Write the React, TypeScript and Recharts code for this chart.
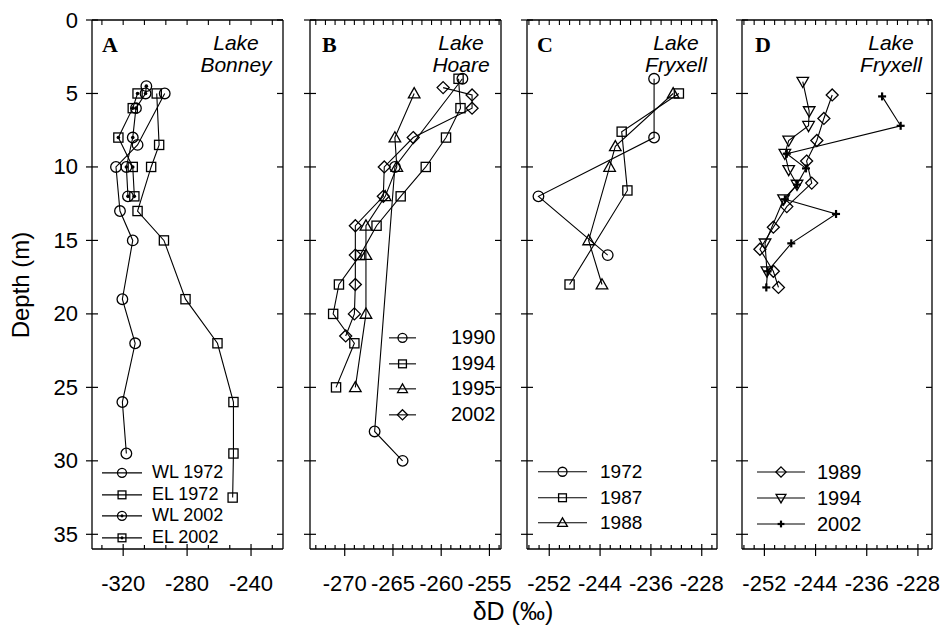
import React from "react";
import { ScatterChart, Scatter, XAxis, YAxis, Legend, ReferenceLine } from "recharts";

const FONT = "Arial, 'Liberation Sans', Helvetica, sans-serif";
const SERIF = "'Times New Roman', 'Liberation Serif', serif";

const PLOT_H = 529;

// shared depth axis (m)
const depthDomain: [number, number] = [0, 36];
const depthTicks = [0, 5, 10, 15, 20, 25, 30, 35];

// A - Lake Bonney
const bonneyWL1972Depth = [5, 8.5, 10, 13, 15, 19, 22, 26, 29.5];
const bonneyWL1972dD = [-294, -311, -324.5, -322, -314, -320.5, -312.5, -320.5, -318];
const bonneyEL1972Depth = [5, 8.5, 10, 13, 15, 19, 22, 26, 29.5, 32.5];
const bonneyEL1972dD = [-299, -297.5, -302.5, -311, -294.5, -281, -261, -251, -251, -251.5];
const bonneyWL2002Depth = [4.5, 5, 6, 8, 10, 12];
const bonneyWL2002dD = [-305.5, -306, -312, -314, -318, -317];
const bonneyEL2002Depth = [5, 6, 8, 10, 12];
const bonneyEL2002dD = [-311, -314, -323, -314, -313];
const bonneyTicks = [-333.3, -320, -306.7, -293.3, -280, -266.7, -253.3, -240, -226.7];
const bonneyLabels = [-320, -280, -240];

// B - Lake Hoare
const hoare1990Depth = [4, 10, 28, 30];
const hoare1990dD = [-257.8, -264.8, -266.9, -264];
const hoare1994Depth = [4, 6, 8, 10, 12, 14, 16, 18, 20, 22, 25];
const hoare1994dD = [-258.2, -258, -259.5, -261.6, -264.2, -266.7, -268.4, -270.6, -271.2, -269, -270.9];
const hoare1995Depth = [5, 8, 10, 12, 14, 16, 20, 25];
const hoare1995dD = [-262.8, -264.8, -264.6, -265.8, -267.8, -267.8, -267.8, -268.9];
const hoare2002Depth = [4.6, 5.1, 6, 8, 10, 12, 14, 16, 18, 20, 21.5];
const hoare2002dD = [-259.8, -256.8, -256.8, -262.9, -265.9, -266, -268.9, -268.9, -268.9, -269, -269.9];
const hoareTicks = [-273, -272, -271, -270, -269, -268, -267, -266, -265, -264, -263, -262, -261, -260, -259, -258, -257, -256, -255, -254];
const hoareLabels = [-270, -265, -260, -255];

// C - Lake Fryxell (1972-1988)
const fryxC1972Depth = [4, 8, 12, 16];
const fryxC1972dD = [-235.5, -235.5, -253.7, -242.8];
const fryxC1987Depth = [5, 7.6, 11.6, 18];
const fryxC1987dD = [-231.6, -240.6, -239.7, -248.8];
const fryxC1988Depth = [5, 8.6, 10, 15, 18];
const fryxC1988dD = [-232.5, -241.6, -242.5, -245.8, -243.7];

// D - Lake Fryxell (1989-2002)
const fryxD1989Depth = [5.1, 6.7, 8.2, 9.6, 11.1, 12.7, 14.1, 15.6, 17.1, 18.2];
const fryxD1989dD = [-241.4, -242.7, -243.8, -245.4, -244.6, -248.5, -250.6, -252.7, -250.6, -249.8];
const fryxD1994Depth = [4.2, 6.2, 7.2, 8.2, 9.1, 10.2, 11.2, 12.2, 15.2, 17.1];
const fryxD1994dD = [-246, -245, -245.1, -248.2, -248.8, -248.2, -246.9, -249, -251.9, -251.6];
const fryxD2002Depth = [5.2, 7.2, 9.1, 10.1, 11.2, 12.2, 13.2, 15.2, 17.1, 18.2];
const fryxD2002dD = [-233.6, -230.7, -248.5, -245.5, -246.9, -248.8, -240.8, -247.8, -251.5, -251.7];

const fryxTicks = [-255.2, -253.6, -252, -250.4, -248.8, -247.2, -245.6, -244, -242.4, -240.8, -239.2, -237.6, -236, -234.4, -232.8, -231.2, -229.6, -228, -226.4];
const fryxLabels = [-252, -244, -236, -228];

type MarkerKind = "circle" | "square" | "triangle" | "triangleDown" | "diamond" | "circleDot" | "squareDot" | "plus";

const Marker = ({ kind, cx, cy, k = 1 }: { kind: MarkerKind; cx: number; cy: number; k?: number }) => {
  const s = { fill: "none", stroke: "#000", strokeWidth: 1.3 };
  const r = 5.3 * k;
  const h = 4.6 * k;
  switch (kind) {
    case "circle":
      return <circle cx={cx} cy={cy} r={r} {...s} />;
    case "circleDot":
      return (
        <g>
          <circle cx={cx} cy={cy} r={r} {...s} />
          <circle cx={cx} cy={cy} r={1.8 * k} fill="#000" />
        </g>
      );
    case "square":
      return <rect x={cx - h} y={cy - h} width={2 * h} height={2 * h} {...s} />;
    case "squareDot":
      return (
        <g>
          <rect x={cx - h} y={cy - h} width={2 * h} height={2 * h} {...s} />
          <circle cx={cx} cy={cy} r={1.8 * k} fill="#000" />
        </g>
      );
    case "triangle": {
      const a = 5.8 * k;
      return <polygon points={`${cx},${cy - a} ${cx + a},${cy + a * 0.75} ${cx - a},${cy + a * 0.75}`} {...s} />;
    }
    case "triangleDown": {
      const a = 5.8 * k;
      return <polygon points={`${cx},${cy + a} ${cx + a},${cy - a * 0.75} ${cx - a},${cy - a * 0.75}`} {...s} />;
    }
    case "diamond": {
      const d = 6 * k;
      return <polygon points={`${cx},${cy - d} ${cx + d},${cy} ${cx},${cy + d} ${cx - d},${cy}`} {...s} />;
    }
    case "plus": {
      const p = 4 * k;
      return (
        <g stroke="#000" strokeWidth={2.2}>
          <line x1={cx - p} x2={cx + p} y1={cy} y2={cy} />
          <line x1={cx} x2={cx} y1={cy - p} y2={cy + p} />
        </g>
      );
    }
  }
  return null;
};

const toPts = (dD: number[], depth: number[]) => dD.map((x, i) => ({ x, y: depth[i] }));

type Series = { name: string; dD: number[]; depth: number[]; marker: MarkerKind };

const seriesA: Series[] = [
  { name: "WL 1972", dD: bonneyWL1972dD, depth: bonneyWL1972Depth, marker: "circle" },
  { name: "EL 1972", dD: bonneyEL1972dD, depth: bonneyEL1972Depth, marker: "square" },
  { name: "WL 2002", dD: bonneyWL2002dD, depth: bonneyWL2002Depth, marker: "circleDot" },
  { name: "EL 2002", dD: bonneyEL2002dD, depth: bonneyEL2002Depth, marker: "squareDot" },
];
const seriesB: Series[] = [
  { name: "1990", dD: hoare1990dD, depth: hoare1990Depth, marker: "circle" },
  { name: "1994", dD: hoare1994dD, depth: hoare1994Depth, marker: "square" },
  { name: "1995", dD: hoare1995dD, depth: hoare1995Depth, marker: "triangle" },
  { name: "2002", dD: hoare2002dD, depth: hoare2002Depth, marker: "diamond" },
];
const seriesC: Series[] = [
  { name: "1972", dD: fryxC1972dD, depth: fryxC1972Depth, marker: "circle" },
  { name: "1987", dD: fryxC1987dD, depth: fryxC1987Depth, marker: "square" },
  { name: "1988", dD: fryxC1988dD, depth: fryxC1988Depth, marker: "triangle" },
];
const seriesD: Series[] = [
  { name: "1989", dD: fryxD1989dD, depth: fryxD1989Depth, marker: "diamond" },
  { name: "1994", dD: fryxD1994dD, depth: fryxD1994Depth, marker: "triangleDown" },
  { name: "2002", dD: fryxD2002dD, depth: fryxD2002Depth, marker: "plus" },
];

const isMajor = (labels: number[], v: number) => labels.some((m) => Math.abs(m - v) < 1e-6);

// labels only, tick marks are drawn as reference segments
const bottomLabel = (labels: number[]) => (props: any) => {
  const { x, y, payload } = props;
  if (!isMajor(labels, payload.value)) return <g />;
  return (
    <text x={x} y={y + 42} textAnchor="middle" fontSize={22} fontFamily={FONT} fill="#000">
      {payload.value}
    </text>
  );
};

const leftLabel = (show: boolean) => (props: any) => {
  const { x, y, payload } = props;
  if (!show) return <g />;
  return (
    <text x={x - 14} y={y} textAnchor="end" dominantBaseline="central" fontSize={22} fontFamily={FONT} fill="#000">
      {payload.value}
    </text>
  );
};

type LegendCfg = { left: number; top: number; rowH: number; lineW: number; gap: number; fontSize: number };

const LegendBox = ({ items, cfg }: { items: Series[]; cfg: LegendCfg }) => (
  <div style={{ fontFamily: FONT, fontSize: cfg.fontSize, color: "#000" }}>
    {items.map((it) => (
      <div key={it.name} style={{ display: "flex", alignItems: "center", height: cfg.rowH }}>
        <svg width={cfg.lineW} height={cfg.rowH} style={{ display: "block" }}>
          <line x1={0} x2={cfg.lineW} y1={cfg.rowH / 2} y2={cfg.rowH / 2} stroke="#000" strokeWidth={1.1} />
          <Marker kind={it.marker} cx={cfg.lineW / 2} cy={cfg.rowH / 2} k={0.85} />
        </svg>
        <span style={{ marginLeft: cfg.gap, lineHeight: `${cfg.rowH}px`, whiteSpace: "nowrap" }}>{it.name}</span>
      </div>
    ))}
  </div>
);

type PanelProps = {
  left: number;
  width: number;
  margin: { top: number; right: number; bottom: number; left: number };
  yWidth: number;
  showDepthLabels: boolean;
  domain: [number, number];
  ticks: number[];
  labels: number[];
  series: Series[];
  legend: LegendCfg;
};

const Panel = ({ left, width, margin, yWidth, showDepthLabels, domain, ticks, labels, series, legend }: PanelProps) => {
  const plotW = width - margin.left - margin.right - yWidth - 1;
  const ux = (domain[1] - domain[0]) / plotW; // data units per pixel, x
  const uy = (depthDomain[1] - depthDomain[0]) / PLOT_H; // data units per pixel, depth
  const seg = { xAxisId: "b", yAxisId: "l", stroke: "#000", strokeWidth: 1.2, ifOverflow: "visible" as const };
  return (
    <div style={{ position: "absolute", left, top: 0 }}>
      <ScatterChart width={width} height={629} margin={margin}>
        <XAxis
          xAxisId="b"
          type="number"
          dataKey="x"
          domain={domain}
          ticks={ticks}
          interval={0}
          allowDataOverflow
          height={40}
          tickLine={false}
          tickSize={0}
          tickMargin={0}
          axisLine={{ stroke: "#000", strokeWidth: 1.3 }}
          tick={bottomLabel(labels)}
        />
        <XAxis
          xAxisId="t"
          orientation="top"
          type="number"
          domain={domain}
          allowDataOverflow
          height={1}
          tick={false}
          tickLine={false}
          axisLine={{ stroke: "#000", strokeWidth: 1.3 }}
        />
        <YAxis
          yAxisId="l"
          type="number"
          dataKey="y"
          domain={depthDomain}
          ticks={depthTicks}
          interval={0}
          reversed
          allowDataOverflow
          width={yWidth}
          tickLine={false}
          tickSize={0}
          tickMargin={0}
          axisLine={{ stroke: "#000", strokeWidth: 1.3 }}
          tick={leftLabel(showDepthLabels)}
        />
        <YAxis
          yAxisId="r"
          orientation="right"
          type="number"
          domain={depthDomain}
          reversed
          allowDataOverflow
          width={1}
          tick={false}
          tickLine={false}
          axisLine={{ stroke: "#000", strokeWidth: 1.3 }}
        />
        {ticks.map((t) => (
          <ReferenceLine
            key={`bt${t}`}
            {...seg}
            segment={[
              { x: t, y: depthDomain[1] - (isMajor(labels, t) ? 5 : 4) * uy },
              { x: t, y: depthDomain[1] + (isMajor(labels, t) ? 7 : 0) * uy },
            ]}
          />
        ))}
        {ticks.map((t) => (
          <ReferenceLine
            key={`tt${t}`}
            {...seg}
            strokeWidth={1.1}
            segment={[
              { x: t, y: depthDomain[0] },
              { x: t, y: depthDomain[0] + 5 * uy },
            ]}
          />
        ))}
        {depthTicks.map((d) => (
          <ReferenceLine
            key={`lt${d}`}
            {...seg}
            segment={[
              { x: domain[0] - 6 * ux, y: d },
              { x: domain[0] + 6 * ux, y: d },
            ]}
          />
        ))}
        {depthTicks.map((d) => (
          <ReferenceLine
            key={`rt${d}`}
            {...seg}
            segment={[
              { x: domain[1] - 6 * ux, y: d },
              { x: domain[1], y: d },
            ]}
          />
        ))}
        {series.map((s) => (
          <Scatter
            key={s.name}
            name={s.name}
            xAxisId="b"
            yAxisId="l"
            data={toPts(s.dD, s.depth)}
            line={{ stroke: "#000", strokeWidth: 1.1 }}
            lineType="joint"
            shape={(p: any) => <Marker kind={s.marker} cx={p.cx} cy={p.cy} />}
            isAnimationActive={false}
          />
        ))}
        <Legend
          layout="vertical"
          align="center"
          verticalAlign="middle"
          wrapperStyle={{ left: legend.left - left, top: legend.top, width: "auto" }}
          content={() => <LegendBox items={series} cfg={legend} />}
        />
      </ScatterChart>
    </div>
  );
};

const lakeNames = [
  { letter: "A", lx: 102, cx: 236, l1: "Lake", l2: "Bonney" },
  { letter: "B", lx: 322, cx: 461, l1: "Lake", l2: "Hoare" },
  { letter: "C", lx: 537, cx: 676, l1: "Lake", l2: "Fryxell" },
  { letter: "D", lx: 755, cx: 891, l1: "Lake", l2: "Fryxell" },
];

export default function App() {
  return (
    <div style={{ position: "absolute", left: 0, top: 0, width: 943, height: 629, background: "#fff", overflow: "hidden" }}>
      <Panel
        left={0}
        width={300}
        margin={{ top: 19, right: 16, bottom: 40, left: 32 }}
        yWidth={60}
        showDepthLabels
        domain={[-339.5, -220]}
        ticks={bonneyTicks}
        labels={bonneyLabels}
        series={seriesA}
        legend={{ left: 102, top: 462, rowH: 21.7, lineW: 40, gap: 10, fontSize: 18 }}
      />
      <Panel
        left={300}
        width={215}
        margin={{ top: 19, right: 13, bottom: 40, left: 9 }}
        yWidth={1}
        showDepthLabels={false}
        domain={[-273.6, -253.8]}
        ticks={hoareTicks}
        labels={hoareLabels}
        series={seriesB}
        legend={{ left: 389, top: 325, rowH: 25.7, lineW: 27, gap: 35, fontSize: 20 }}
      />
      <Panel
        left={515}
        width={215}
        margin={{ top: 19, right: 12, bottom: 40, left: 11 }}
        yWidth={1}
        showDepthLabels={false}
        domain={[-255.5, -225.6]}
        ticks={fryxTicks}
        labels={fryxLabels}
        series={seriesC}
        legend={{ left: 538, top: 459, rowH: 25.5, lineW: 49, gap: 13, fontSize: 19 }}
      />
      <Panel
        left={730}
        width={213}
        margin={{ top: 19, right: 10, bottom: 40, left: 11 }}
        yWidth={1}
        showDepthLabels={false}
        domain={[-255.5, -225.8]}
        ticks={fryxTicks}
        labels={fryxLabels}
        series={seriesD}
        legend={{ left: 757, top: 459, rowH: 26, lineW: 48, gap: 12, fontSize: 20 }}
      />
      <svg width={943} height={629} style={{ position: "absolute", left: 0, top: 0, pointerEvents: "none" }}>
        {lakeNames.map((n) => (
          <g key={n.letter}>
            <text x={n.lx} y={52} fontFamily={SERIF} fontWeight="bold" fontSize={22} fill="#000">
              {n.letter}
            </text>
            <text x={n.cx} y={50} textAnchor="middle" fontFamily={FONT} fontStyle="italic" fontSize={21} fill="#000">
              {n.l1}
            </text>
            <text x={n.cx} y={71.5} textAnchor="middle" fontFamily={FONT} fontStyle="italic" fontSize={21} fill="#000">
              {n.l2}
            </text>
          </g>
        ))}
        <text x={20} y={285} transform="rotate(-90 20 285)" textAnchor="middle" dominantBaseline="central" fontFamily={FONT} fontSize={24} fill="#000">
          Depth (m)
        </text>
        <text x={513} y={620} textAnchor="middle" fontFamily={FONT} fontSize={25} fill="#000">
          δD (‰)
        </text>
      </svg>
    </div>
  );
}
